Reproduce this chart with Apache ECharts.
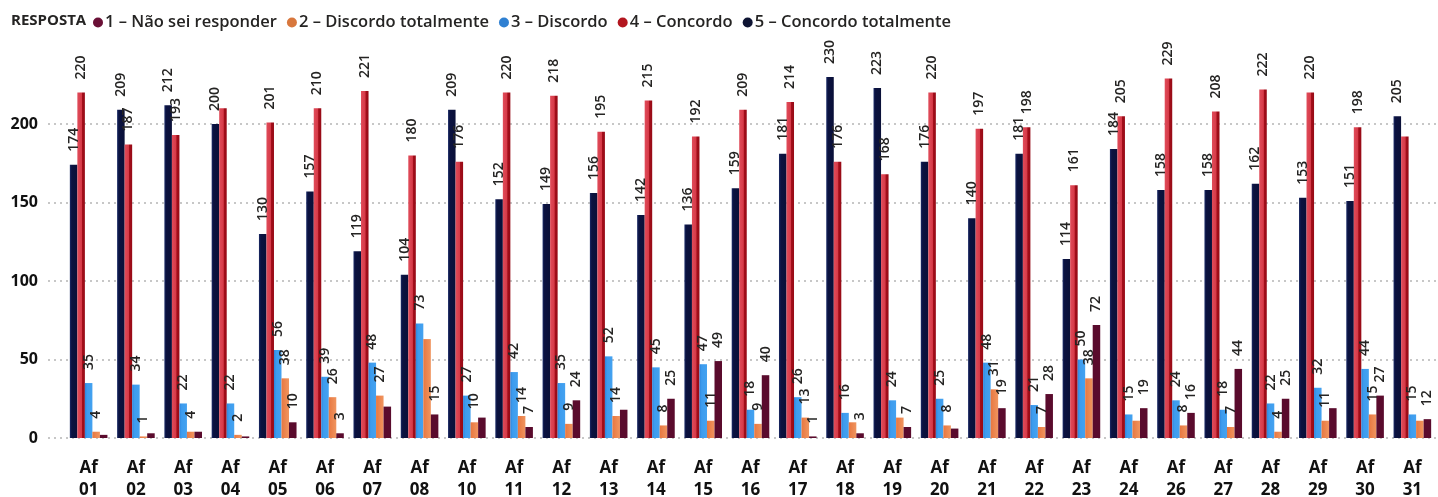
<!DOCTYPE html>
<html>
<head>
<meta charset="utf-8">
<script src="https://cdn.jsdelivr.net/npm/echarts@6/dist/echarts.min.js"></script>
<style>
  html, body { margin: 0; padding: 0; background: #ffffff; }
  #chart { width: 1438px; height: 497px; }
</style>
</head>
<body>
<div id="chart"></div>
<script>
// ---- data ----
const categories = ['Af 01','Af 02','Af 03','Af 04','Af 05','Af 06','Af 07','Af 08','Af 10','Af 11','Af 12','Af 13','Af 14','Af 15','Af 16','Af 17','Af 18','Af 19','Af 20','Af 21','Af 22','Af 23','Af 24','Af 26','Af 27','Af 28','Af 29','Af 30','Af 31'];
const seriesNames = ['1 – Não sei responder', '2 – Discordo totalmente', '3 – Discordo', '4 – Concordo', '5 – Concordo totalmente'];
const resp1 = [2,3,4,1,10,3,20,15,13,7,24,18,25,49,40,1,3,7,6,19,28,72,19,16,44,25,19,27,12];
const resp2 = [4,1,4,2,38,26,27,63,10,14,9,14,8,11,9,13,10,13,8,31,7,38,11,8,7,4,11,15,11];
const resp3 = [35,34,22,22,56,39,48,73,27,42,35,52,45,47,18,26,16,24,25,48,21,50,15,24,18,22,32,44,15];
const resp4 = [220,187,193,210,201,210,221,180,176,220,218,195,215,192,209,214,176,168,220,197,198,161,205,229,208,222,220,198,192];
const resp5 = [174,209,212,200,130,157,119,104,209,152,149,156,142,136,159,181,230,223,176,140,181,114,184,158,158,162,153,151,205];
// labels not shown in the reference (hidden by overlap there)
const hidden1 = ['Af 01','Af 02','Af 03','Af 04','Af 07','Af 10','Af 13','Af 20','Af 29'];
const hidden2 = ['Af 08','Af 18','Af 19','Af 24','Af 31'];
const hidden3 = [];
const hidden4 = ['Af 04','Af 31'];
const hidden5 = [];
const yTicks = [0, 50, 100, 150, 200];

const FONT = 'Open Sans';
const TXT = '#252423';

const barColors = {
  1: '#5a0b2d',
  2: { type: 'linear', x: 0, y: 0, x2: 1, y2: 0, colorStops: [{offset: 0, color: '#e87740'}, {offset: 1, color: '#f0955f'}] },
  3: { type: 'linear', x: 0, y: 0, x2: 1, y2: 0, colorStops: [{offset: 0, color: '#2f86dc'}, {offset: 0.3, color: '#3d9cee'}, {offset: 1, color: '#44a2f0'}] },
  4: { type: 'linear', x: 0, y: 0, x2: 1, y2: 0, colorStops: [{offset: 0, color: '#e04c5a'}, {offset: 0.55, color: '#d63a48'}, {offset: 0.65, color: '#a30e1a'}, {offset: 1, color: '#960a16'}] },
  5: { type: 'linear', x: 0, y: 0, x2: 1, y2: 0, colorStops: [{offset: 0, color: '#1a2a66'}, {offset: 0.25, color: '#0b1240'}, {offset: 1, color: '#0a1038'}] }
};
const legendColors = ['#6a1036', '#d8773d', '#2f80d2', '#b3161f', '#0e1433'];

function mkData(values, hidden) {
  return values.map((v, i) => {
    if (hidden.indexOf(categories[i]) >= 0) {
      return { value: v, label: { show: false } };
    }
    return v;
  });
}

function mkSeries(idx, values, hidden) {
  return {
    name: seriesNames[idx - 1],
    type: 'bar',
    xAxisIndex: 1,
    yAxisIndex: 1,
    barGap: '0%',
    barCategoryGap: '20.5%',
    itemStyle: { color: barColors[idx] },
    label: {
      show: true,
      position: 'top',
      rotate: 90,
      align: 'left',
      verticalAlign: 'middle',
      distance: 13,
      fontFamily: FONT,
      fontWeight: 600,
      fontSize: 14,
      color: TXT
    },
    data: mkData(values, hidden)
  };
}

const chart = echarts.init(document.getElementById('chart'), null, { renderer: 'canvas' });

const gridTop = 45.5, gridBottom = 59;

chart.setOption({
  animation: false,
  backgroundColor: '#ffffff',
  title: {
    text: 'RESPOSTA',
    left: 6,
    top: 8,
    textStyle: { fontFamily: FONT, fontWeight: 700, fontSize: 15, color: TXT }
  },
  legend: {
    left: 88,
    top: 9,
    icon: 'circle',
    itemWidth: 10,
    itemHeight: 10,
    itemGap: 10,
    textStyle: { fontFamily: FONT, fontWeight: 600, fontSize: 16.5, color: TXT, padding: [0, 0, 0, -3] },
    data: seriesNames.map((n, i) => ({ name: n, itemStyle: { color: legendColors[i] } }))
  },
  grid: [
    { left: 48, right: 2, top: gridTop, bottom: gridBottom, outerBoundsMode: 'none', containLabel: false },
    { left: 65, right: 2, top: gridTop, bottom: gridBottom, outerBoundsMode: 'none', containLabel: false }
  ],
  xAxis: [
    { type: 'value', gridIndex: 0, min: 0, max: 1, show: false },
    {
      type: 'category',
      gridIndex: 1,
      data: categories,
      axisLine: { show: false },
      axisTick: { show: false },
      axisLabel: {
        margin: 19,
        interval: 0,
        fontFamily: FONT,
        fontWeight: 700,
        fontSize: 17,
        lineHeight: 22,
        color: '#111111',
        formatter: v => v.replace(' ', '\n')
      }
    }
  ],
  yAxis: [
    {
      type: 'value',
      gridIndex: 0,
      min: 0,
      max: 250,
      interval: 50,
      axisLine: { show: false },
      axisTick: { show: false },
      axisLabel: {
        margin: 10,
        showMaxLabel: false,
        fontFamily: FONT,
        fontWeight: 700,
        fontSize: 16,
        color: '#111111',
        formatter: v => (yTicks.indexOf(v) >= 0 ? String(v) : '')
      },
      splitLine: {
        show: true,
        lineStyle: {
          type: [2, 4],
          width: 1.5,
          color: ['#b5b5b5', '#b5b5b5', '#b5b5b5', '#b5b5b5', '#b5b5b5', 'rgba(0,0,0,0)']
        }
      }
    },
    { type: 'value', gridIndex: 1, min: 0, max: 250, show: false, splitLine: { show: false } }
  ],
  series: [
    mkSeries(5, resp5, hidden5),
    mkSeries(4, resp4, hidden4),
    mkSeries(3, resp3, hidden3),
    mkSeries(2, resp2, hidden2),
    mkSeries(1, resp1, hidden1)
  ]
});
</script>
</body>
</html>
